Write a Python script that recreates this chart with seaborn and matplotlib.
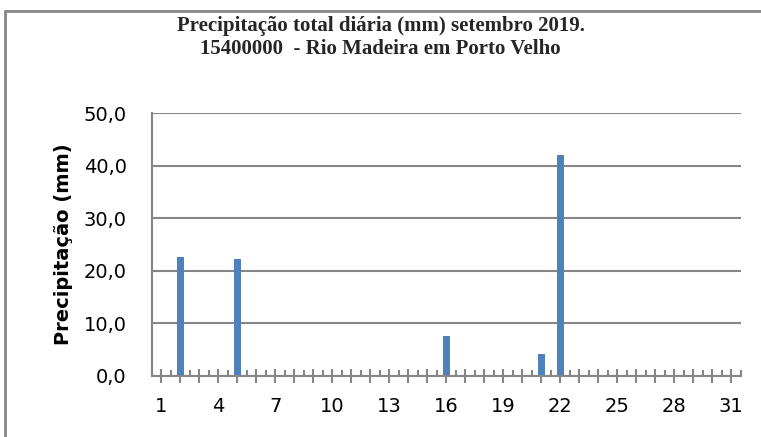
import pandas as pd
import numpy as np
import seaborn as sns
import matplotlib.pyplot as plt
from matplotlib.lines import Line2D

# dados: precipitação diária setembro 2019
dias = list(range(1, 32))
precip = [0.0, 22.6, 0.0, 0.0, 22.2, 0.0, 0.0, 0.0, 0.0, 0.0,
          0.0, 0.0, 0.0, 0.0, 0.0, 7.6, 0.0, 0.0, 0.0, 0.0,
          4.1, 42.0, 0.0, 0.0, 0.0, 0.0, 0.0, 0.0, 0.0, 0.0, 0.0]
y_ticks = [0, 10, 20, 30, 40, 50]
y_labels = ["0,0", "10,0", "20,0", "30,0", "40,0", "50,0"]
titulo = "Precipitação total diária (mm) setembro 2019.\n15400000  - Rio Madeira em Porto Velho"

df = pd.DataFrame({"dia": dias, "precip": precip})

sns.set_style("white", {"xtick.bottom": True})
plt.rcParams["font.family"] = ["DejaVu Sans"]

fig = plt.figure(figsize=(7.61, 4.37), dpi=100)
ax = fig.add_axes([0.1995, 0.140, 0.774, 0.601])

sns.barplot(data=df, x="dia", y="precip", color="#4F81BD", width=0.4,
            saturation=1, linewidth=0, ax=ax)

cinza = "#868686"
ax.set_ylim(0, 50)
ax.set_xlim(-0.5, 30.5)
ax.set_yticks(y_ticks)
ax.set_yticklabels(y_labels, fontsize=14, color="black")
ax.yaxis.grid(True, color=cinza, linewidth=1.5)
ax.set_axisbelow(True)

# eixo x: marcas cruzadas no centro de cada dia, marcas internas entre dias
ax.set_xticks(range(len(dias)))
ax.set_xticklabels([str(d) if (d - 1) % 3 == 0 else "" for d in dias],
                   fontsize=14, color="black")
ax.set_xticks(np.arange(-0.5, 31, 1), minor=True)
ax.tick_params(axis="x", which="major", bottom=True, direction="inout",
               length=10, width=1.5, color=cinza, pad=10)
ax.tick_params(axis="x", which="minor", bottom=True, direction="in",
               length=4, width=1.5, color=cinza)
ax.tick_params(axis="y", length=0, pad=18)

for s in ["top", "right"]:
    ax.spines[s].set_visible(False)
for s in ["left", "bottom"]:
    ax.spines[s].set_color(cinza)
    ax.spines[s].set_linewidth(1.5)

ax.set_xlabel("")
ax.set_ylabel("Precipitação (mm)", fontsize=14, fontweight="bold",
              labelpad=8, color="black")

fig.text(0.5, 0.914, titulo, ha="center", va="center", fontsize=15,
         fontweight="bold", family="Liberation Serif", linespacing=1.15)

# moldura do gráfico
fig.add_artist(Line2D([5 / 761, 1], [1 - 11 / 437] * 2, color=cinza, linewidth=2))
fig.add_artist(Line2D([5 / 761] * 2, [0, 1 - 11 / 437], color=cinza, linewidth=2))

fig.savefig("out.png", dpi=100)
